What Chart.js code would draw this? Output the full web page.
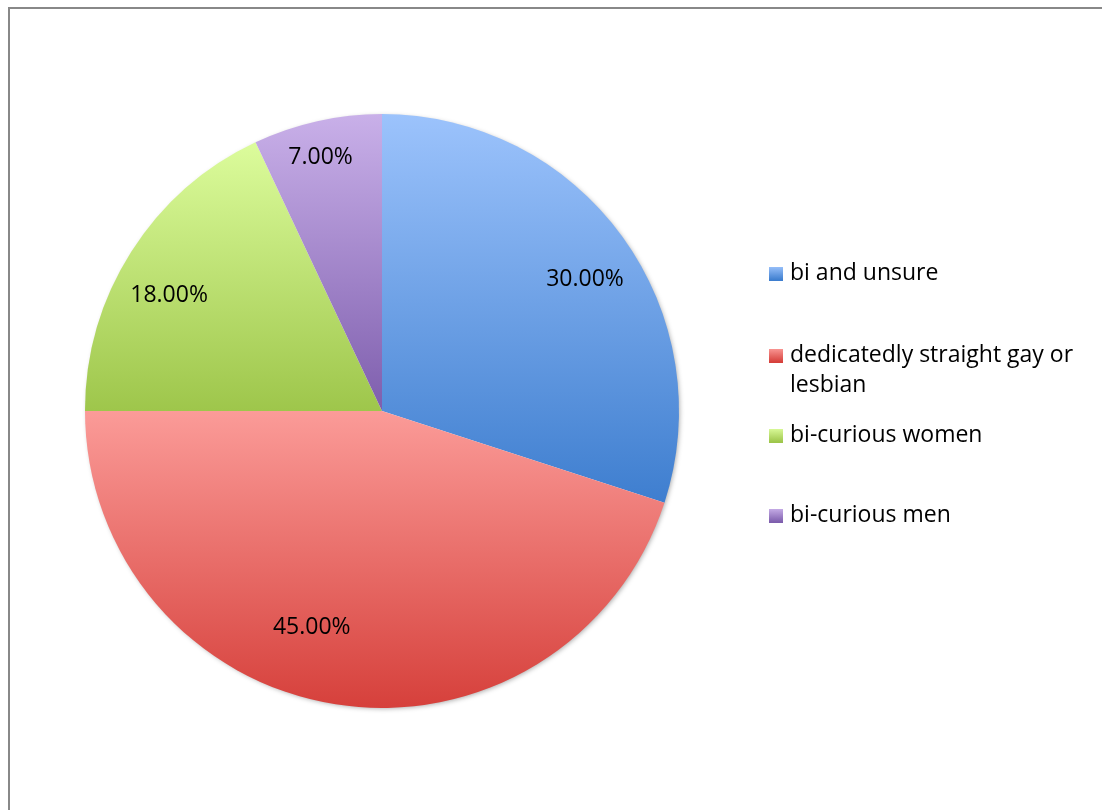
<!DOCTYPE html>
<html>
<head>
<meta charset="utf-8">
<script src="https://cdn.jsdelivr.net/npm/chart.js@4"></script>
<style>
html,body{margin:0;padding:0;background:#fff;}
#wrap{position:relative;width:1102px;height:810px;}
</style>
</head>
<body>
<div id="wrap"><canvas id="c" width="1102" height="810"></canvas></div>
<script>
const categories = ["bi and unsure", "dedicatedly straight gay or lesbian", "bi-curious women", "bi-curious men"];
const legendLines = [["bi and unsure"], ["dedicatedly straight gay or", "lesbian"], ["bi-curious women"], ["bi-curious men"]];
const values = [30, 45, 18, 7];
const valueLabels = ["30.00%", "45.00%", "18.00%", "7.00%"];
const topColors = ["#9cc3fc", "#fb9b98", "#dcfc9c", "#c9b0e9"];
const bottomColors = ["#3e7ecf", "#d6403b", "#9ec64b", "#7e5ead"];

const FONT = '23px "Open Sans", sans-serif';

function sliceYRange(chart, idx) {
  const a = chart.chartArea;
  const cx = (a.left + a.right) / 2, cy = (a.top + a.bottom) / 2;
  const r = Math.min(a.right - a.left, a.bottom - a.top) / 2;
  const total = values.reduce((s, v) => s + v, 0);
  let start = -Math.PI / 2;
  for (let i = 0; i < idx; i++) start += values[i] / total * 2 * Math.PI;
  const end = start + values[idx] / total * 2 * Math.PI;
  let ys = [cy, cy + r * Math.sin(start), cy + r * Math.sin(end)];
  for (let k = -4; k <= 8; k++) {
    const ang = Math.PI / 2 * k;
    if (ang > start && ang < end) ys.push(cy + r * Math.sin(ang));
  }
  return [Math.min(...ys), Math.max(...ys), cx, cy, r, start, end];
}

function sliceColor(ctx) {
  const chart = ctx.chart;
  const i = ctx.dataIndex;
  if (!chart.chartArea) return topColors[i];
  const [y0, y1] = sliceYRange(chart, i);
  const g = chart.ctx.createLinearGradient(0, y0, 0, y1);
  g.addColorStop(0, topColors[i]);
  g.addColorStop(1, bottomColors[i]);
  return g;
}

const labelAngleShift = [3, 9, -4, -1];
const labelRadiusFrac = [0.815, 0.765, 0.815, 0.88];

const extras = {
  id: 'extras',
  beforeDraw(chart) {
    const c = chart.ctx;
    c.save();
    c.strokeStyle = '#888888';
    c.lineWidth = 2;
    c.beginPath();
    c.moveTo(9, 810); c.lineTo(9, 8); c.lineTo(1102, 8);
    c.stroke();
    c.restore();
  },
  beforeDatasetsDraw(chart) {
    const a = chart.chartArea;
    const cx = (a.left + a.right) / 2, cy = (a.top + a.bottom) / 2;
    const r = Math.min(a.right - a.left, a.bottom - a.top) / 2;
    const c = chart.ctx;
    c.save();
    c.shadowColor = 'rgba(0,0,0,0.35)';
    c.shadowBlur = 5;
    c.shadowOffsetX = 1.5;
    c.shadowOffsetY = 1.5;
    c.fillStyle = '#ffffff';
    c.beginPath();
    c.arc(cx, cy, r - 1, 0, Math.PI * 2);
    c.fill();
    c.restore();
  },
  afterDatasetsDraw(chart) {
    const c = chart.ctx;
    c.save();
    c.font = FONT;
    c.fillStyle = '#000';
    c.textAlign = 'center';
    c.textBaseline = 'middle';
    values.forEach((v, i) => {
      const [, , cx, cy, r, s, e] = sliceYRange(chart, i);
      const mid = (s + e) / 2 + labelAngleShift[i] * Math.PI / 180;
      const rr = r * labelRadiusFrac[i];
      c.fillText(valueLabels[i], cx + rr * Math.cos(mid), cy + rr * Math.sin(mid));
    });
    // legend
    const lx = 769, boxSize = 14, tx = 790;
    const itemY = [273, 355, 435, 515];
    const lineH = 30;
    c.textAlign = 'left';
    legendLines.forEach((lines, i) => {
      const y = itemY[i];
      const g = c.createLinearGradient(0, y - boxSize / 2, 0, y + boxSize / 2);
      g.addColorStop(0, topColors[i]);
      g.addColorStop(1, bottomColors[i]);
      c.fillStyle = g;
      c.fillRect(lx, y - boxSize / 2 + 1, boxSize, boxSize);
      c.fillStyle = '#000';
      lines.forEach((t, k) => c.fillText(t, tx, y + k * lineH));
    });
    c.restore();
  }
};

new Chart(document.getElementById('c'), {
  type: 'pie',
  data: {
    labels: categories,
    datasets: [{
      data: values,
      backgroundColor: sliceColor,
      borderWidth: 0,
      hoverOffset: 0
    }]
  },
  options: {
    responsive: false,
    animation: false,
    events: [],
    layout: { padding: { left: 85, right: 423, top: 114, bottom: 102 } },
    plugins: {
      legend: { display: false },
      tooltip: { enabled: false }
    }
  },
  plugins: [extras]
});
</script>
</body>
</html>
